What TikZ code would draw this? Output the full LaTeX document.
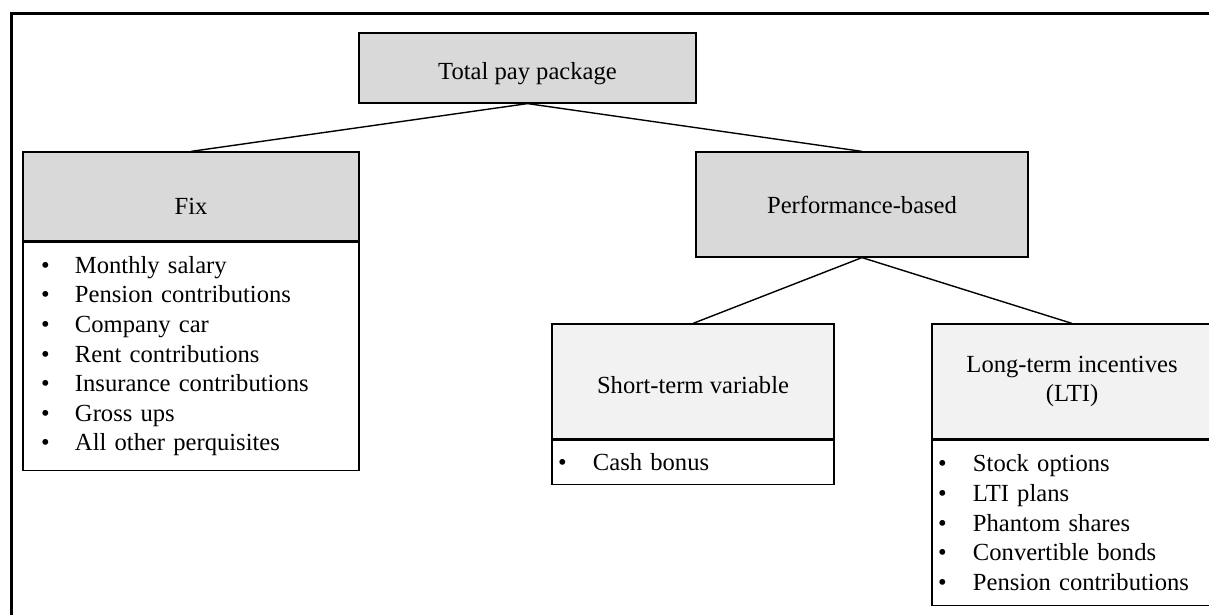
\documentclass[tikz,border=0pt]{standalone}
\usepackage{fontspec}
\setmainfont{Liberation Serif}
\usetikzlibrary{positioning}
\definecolor{headgray}{HTML}{D9D9D9}
\definecolor{subgray}{HTML}{F2F2F2}
\newcommand{\payitem}[2][17pt]{\makebox[#1][l]{\textbullet}#2\par}

\begin{document}
\begin{tikzpicture}[x=0.5pt, y=-0.5pt,
    font=\fontsize{12.3}{14.8}\selectfont,
    box/.style={draw, line width=0.6pt, inner sep=0pt, align=center},
    head/.style={box, fill=headgray},
    subhead/.style={box, fill=subgray},
    listbox/.style={box, fill=white, align=left},
    link/.style={line width=0.7pt}]
    \useasboundingbox (0,0) rectangle (1209,615);
    \draw[line width=1.5pt] (11,640) -- (11,14) -- (1240,14);

    \node[head, minimum width=168.5pt, minimum height=35pt,
          text height=12pt, text depth=0pt] (total) at (527.5,68) {Total pay package};

    \node[head, minimum width=168pt, minimum height=44.5pt,
          text height=18pt, text depth=0pt] (fix) at (191,196.5) {Fix};
    \node[listbox, below=0pt of fix, minimum width=168pt, minimum height=114pt,
          text width=150pt, inner xsep=9pt] (fixlist) {%
        \payitem{Monthly salary}
        \payitem{Pension contributions}
        \payitem{Company car}
        \payitem{Rent contributions}
        \payitem{Insurance contributions}
        \payitem{Gross ups}
        \payitem{All other perquisites}};

    \node[head, minimum width=166pt, minimum height=52.5pt] (perf) at (862,204.5) {Performance-based};

    \node[subhead, minimum width=141pt, minimum height=57.5pt,
          text height=12.4pt, text depth=0pt] (short) at (693,381.5) {Short-term variable};
    \node[listbox, below=0pt of short, minimum width=141pt, minimum height=22pt,
          text width=135pt, inner xsep=3pt] (shortlist) {%
        \payitem[17.5pt]{Cash bonus}};

    \node[subhead, minimum width=140pt, minimum height=57.5pt] (lti) at (1072,381.5) {Long-term incentives\\(LTI)};
    \node[listbox, below=0pt of lti, minimum width=140pt, minimum height=82.5pt,
          text width=134pt, inner xsep=3pt] (ltilist) {%
        \payitem[17.5pt]{Stock options}
        \payitem[17.5pt]{LTI plans}
        \payitem[17.5pt]{Phantom shares}
        \payitem[17.5pt]{Convertible bonds}
        \payitem[17.5pt]{Pension contributions}};

    \draw[link] (total.south) -- (fix.north);
    \draw[link] (total.south) -- (perf.north);
    \draw[link] (perf.south) -- (short.north);
    \draw[link] (perf.south) -- (lti.north);
\end{tikzpicture}
\end{document}
